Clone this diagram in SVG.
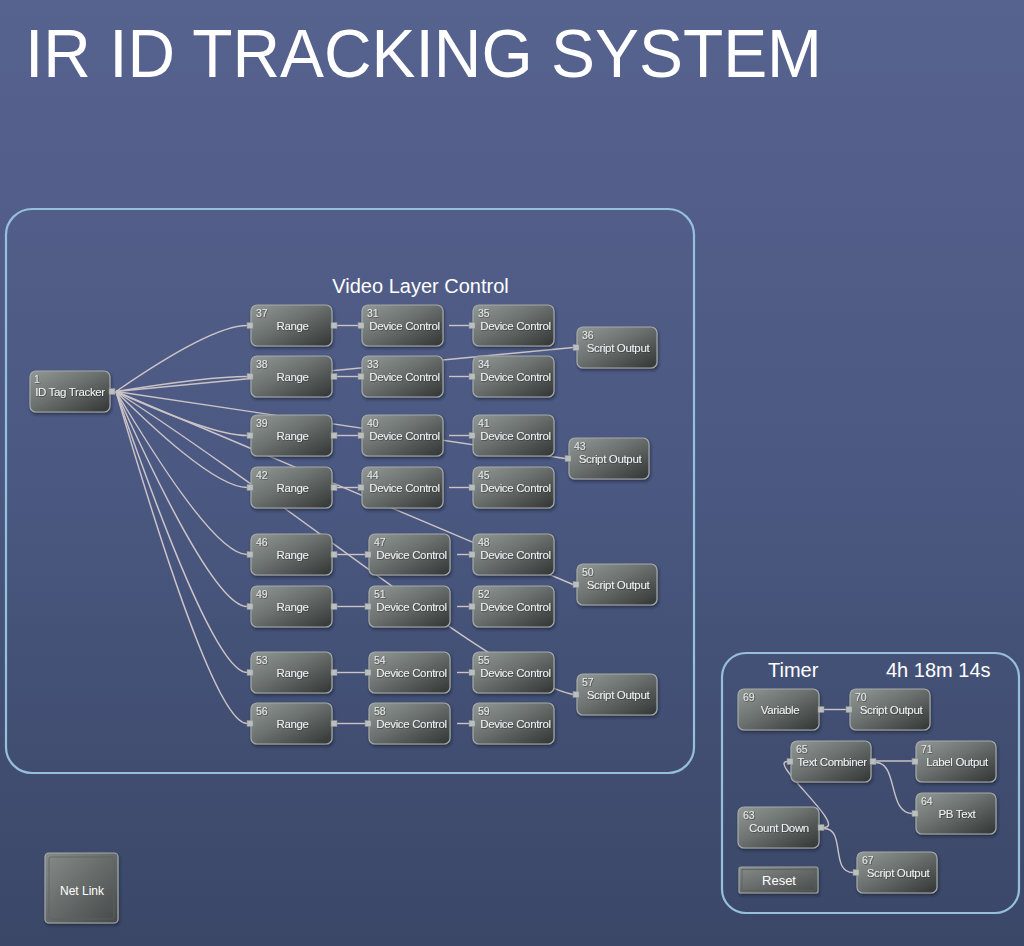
<svg xmlns="http://www.w3.org/2000/svg" width="1024" height="946" viewBox="0 0 1024 946">
<defs>
<linearGradient id="bg" x1="0" y1="0" x2="0" y2="1">
<stop offset="0" stop-color="#57638f"/>
<stop offset="0.5" stop-color="#4b5881"/>
<stop offset="1" stop-color="#3a4767"/>
</linearGradient>
<linearGradient id="ng" x1="0" y1="0" x2="1" y2="1">
<stop offset="0" stop-color="#929896"/>
<stop offset="0.45" stop-color="#6b716f"/>
<stop offset="1" stop-color="#323534"/>
</linearGradient>
<linearGradient id="bt" x1="0" y1="0" x2="1" y2="1">
<stop offset="0" stop-color="#868c8a"/>
<stop offset="1" stop-color="#454948"/>
</linearGradient>
<filter id="sh" x="-10%" y="-10%" width="130%" height="140%">
<feDropShadow dx="1" dy="2" stdDeviation="1.4" flood-color="#151b2a" flood-opacity="0.6"/>
</filter>
<filter id="ts" x="-5%" y="-20%" width="110%" height="150%">
<feDropShadow dx="0.6" dy="0.6" stdDeviation="0.3" flood-color="#1c1f1f" flood-opacity="0.7"/>
</filter>
</defs>
<style>
.nb{fill:url(#ng);stroke:#a3a9a8;stroke-width:1.2;filter:url(#sh)}
.p{fill:#babebe;stroke:#878c8c;stroke-width:0.5}
.n{font-family:"Liberation Sans",Arial,sans-serif;font-size:10.5px;fill:#e4e8e8;filter:url(#ts)}
.l{font-family:"Liberation Sans",Arial,sans-serif;font-size:11.5px;letter-spacing:-0.35px;fill:#eef2f2;text-anchor:middle;filter:url(#ts)}
.e{fill:none;stroke:#cbc3c6;stroke-width:1.4}
.box{fill:none;stroke:#96bfdc;stroke-width:2.2}
.h{font-family:"Liberation Sans",Arial,sans-serif;fill:#ffffff}
</style>
<rect x="0" y="0" width="1024" height="946" fill="url(#bg)"/>
<text class="h" x="25" y="77" font-size="68" textLength="797" lengthAdjust="spacingAndGlyphs">IR ID TRACKING SYSTEM</text>
<g id="video-box">
<rect class="box" x="6" y="209" width="688" height="564" rx="26"/>
<text class="h" x="420.5" y="293" font-size="20" text-anchor="middle">Video Layer Control</text>
</g>
<g id="timer-box">
<rect class="box" x="722" y="653" width="297" height="260" rx="24"/>
<text class="h" x="768" y="677" font-size="20">Timer</text>
<text class="h" x="886" y="677" font-size="20">4h 18m 14s</text>
</g>
<g id="connectors">
<path class="e" d="M116,391.5 C150,368 215,325.5 247,325.5"/>
<path class="e" d="M116,391.5 C150,386 215,376.5 247,376.5"/>
<path class="e" d="M116,391.5 C150,407 215,435.5 247,435.5"/>
<path class="e" d="M116,391.5 C150,425 215,487.5 247,487.5"/>
<path class="e" d="M116,391.5 C150,448 215,554.5 247,554.5"/>
<path class="e" d="M116,391.5 C150,467 215,606.5 247,606.5"/>
<path class="e" d="M116,391.5 C150,490 215,672.5 247,672.5"/>
<path class="e" d="M116,391.5 C150,508 215,723.5 247,723.5"/>
<path class="e" d="M116,391.5 L573,347.5"/>
<path class="e" d="M116,391.5 L565,458.5"/>
<path class="e" d="M116,391.5 L573,584.5"/>
<path class="e" d="M116,391.5 C300,510 500,680 573,694.5"/>
<path class="e" d="M337,325.5 L358,325.5"/>
<path class="e" d="M337,376.5 L358,376.5"/>
<path class="e" d="M337,435.5 L358,435.5"/>
<path class="e" d="M337,487.5 L358,487.5"/>
<path class="e" d="M337,554.5 L365,554.5"/>
<path class="e" d="M337,606.5 L365,606.5"/>
<path class="e" d="M337,672.5 L365,672.5"/>
<path class="e" d="M337,723.5 L365,723.5"/>
<path class="e" d="M449,325.5 L469,325.5"/>
<path class="e" d="M449,376.5 L469,376.5"/>
<path class="e" d="M449,435.5 L469,435.5"/>
<path class="e" d="M449,487.5 L469,487.5"/>
<path class="e" d="M457,554.5 L469,554.5"/>
<path class="e" d="M457,606.5 L469,606.5"/>
<path class="e" d="M457,672.5 L469,672.5"/>
<path class="e" d="M457,723.5 L469,723.5"/>
<path class="e" d="M824,709.5 L846,709.5"/>
<path class="e" d="M876,761 L912,761"/>
<path class="e" d="M876,762.5 C898,762.5 888,813.5 912,813.5"/>
<path class="e" d="M824,827.5 C848,827.5 768,761.5 787,761.5"/>
<path class="e" d="M824,828.5 C846,828.5 830,872.5 853,872.5"/>
</g>
<g id="n1"><rect class="nb" x="30" y="371" width="80" height="41" rx="6"/><rect class="p" x="109" y="388.5" width="6" height="6"/><text class="n" x="34" y="383">1</text><text class="l" x="70" y="396">ID Tag Tracker</text></g>
<g id="n37"><rect class="nb" x="251" y="305" width="81" height="41" rx="6"/><rect class="p" x="247" y="322.5" width="6" height="6"/><rect class="p" x="331" y="322.5" width="6" height="6"/><text class="n" x="256" y="317">37</text><text class="l" x="292.5" y="330">Range</text></g>
<g id="n31"><rect class="nb" x="362" y="305" width="81" height="41" rx="6"/><rect class="p" x="358" y="322.5" width="6" height="6"/><text class="n" x="367" y="317">31</text><text class="l" x="404.5" y="330">Device Control</text></g>
<g id="n35"><rect class="nb" x="473" y="305" width="81" height="41" rx="6"/><rect class="p" x="469" y="322.5" width="6" height="6"/><text class="n" x="478" y="317">35</text><text class="l" x="515.5" y="330">Device Control</text></g>
<g id="n36"><rect class="nb" x="577" y="327" width="80" height="41" rx="6"/><rect class="p" x="573" y="344.5" width="6" height="6"/><text class="n" x="582" y="339">36</text><text class="l" x="618" y="352">Script Output</text></g>
<g id="n38"><rect class="nb" x="251" y="356" width="81" height="41" rx="6"/><rect class="p" x="247" y="373.5" width="6" height="6"/><rect class="p" x="331" y="373.5" width="6" height="6"/><text class="n" x="256" y="368">38</text><text class="l" x="292.5" y="381">Range</text></g>
<g id="n33"><rect class="nb" x="362" y="356" width="81" height="41" rx="6"/><rect class="p" x="358" y="373.5" width="6" height="6"/><text class="n" x="367" y="368">33</text><text class="l" x="404.5" y="381">Device Control</text></g>
<g id="n34"><rect class="nb" x="473" y="356" width="81" height="41" rx="6"/><rect class="p" x="469" y="373.5" width="6" height="6"/><text class="n" x="478" y="368">34</text><text class="l" x="515.5" y="381">Device Control</text></g>
<g id="n39"><rect class="nb" x="251" y="415" width="81" height="41" rx="6"/><rect class="p" x="247" y="432.5" width="6" height="6"/><rect class="p" x="331" y="432.5" width="6" height="6"/><text class="n" x="256" y="427">39</text><text class="l" x="292.5" y="440">Range</text></g>
<g id="n40"><rect class="nb" x="362" y="415" width="81" height="41" rx="6"/><rect class="p" x="358" y="432.5" width="6" height="6"/><text class="n" x="367" y="427">40</text><text class="l" x="404.5" y="440">Device Control</text></g>
<g id="n41"><rect class="nb" x="473" y="415" width="81" height="41" rx="6"/><rect class="p" x="469" y="432.5" width="6" height="6"/><text class="n" x="478" y="427">41</text><text class="l" x="515.5" y="440">Device Control</text></g>
<g id="n43"><rect class="nb" x="569" y="438" width="80" height="41" rx="6"/><rect class="p" x="565" y="455.5" width="6" height="6"/><text class="n" x="574" y="450">43</text><text class="l" x="610" y="463">Script Output</text></g>
<g id="n42"><rect class="nb" x="251" y="467" width="81" height="41" rx="6"/><rect class="p" x="247" y="484.5" width="6" height="6"/><rect class="p" x="331" y="484.5" width="6" height="6"/><text class="n" x="256" y="479">42</text><text class="l" x="292.5" y="492">Range</text></g>
<g id="n44"><rect class="nb" x="362" y="467" width="81" height="41" rx="6"/><rect class="p" x="358" y="484.5" width="6" height="6"/><text class="n" x="367" y="479">44</text><text class="l" x="404.5" y="492">Device Control</text></g>
<g id="n45"><rect class="nb" x="473" y="467" width="81" height="41" rx="6"/><rect class="p" x="469" y="484.5" width="6" height="6"/><text class="n" x="478" y="479">45</text><text class="l" x="515.5" y="492">Device Control</text></g>
<g id="n46"><rect class="nb" x="251" y="534" width="81" height="41" rx="6"/><rect class="p" x="247" y="551.5" width="6" height="6"/><rect class="p" x="331" y="551.5" width="6" height="6"/><text class="n" x="256" y="546">46</text><text class="l" x="292.5" y="559">Range</text></g>
<g id="n47"><rect class="nb" x="369" y="534" width="81" height="41" rx="6"/><rect class="p" x="365" y="551.5" width="6" height="6"/><text class="n" x="374" y="546">47</text><text class="l" x="411.5" y="559">Device Control</text></g>
<g id="n48"><rect class="nb" x="473" y="534" width="81" height="41" rx="6"/><rect class="p" x="469" y="551.5" width="6" height="6"/><text class="n" x="478" y="546">48</text><text class="l" x="515.5" y="559">Device Control</text></g>
<g id="n50"><rect class="nb" x="577" y="564" width="80" height="41" rx="6"/><rect class="p" x="573" y="581.5" width="6" height="6"/><text class="n" x="582" y="576">50</text><text class="l" x="618" y="589">Script Output</text></g>
<g id="n49"><rect class="nb" x="251" y="586" width="81" height="41" rx="6"/><rect class="p" x="247" y="603.5" width="6" height="6"/><rect class="p" x="331" y="603.5" width="6" height="6"/><text class="n" x="256" y="598">49</text><text class="l" x="292.5" y="611">Range</text></g>
<g id="n51"><rect class="nb" x="369" y="586" width="81" height="41" rx="6"/><rect class="p" x="365" y="603.5" width="6" height="6"/><text class="n" x="374" y="598">51</text><text class="l" x="411.5" y="611">Device Control</text></g>
<g id="n52"><rect class="nb" x="473" y="586" width="81" height="41" rx="6"/><rect class="p" x="469" y="603.5" width="6" height="6"/><text class="n" x="478" y="598">52</text><text class="l" x="515.5" y="611">Device Control</text></g>
<g id="n53"><rect class="nb" x="251" y="652" width="81" height="41" rx="6"/><rect class="p" x="247" y="669.5" width="6" height="6"/><rect class="p" x="331" y="669.5" width="6" height="6"/><text class="n" x="256" y="664">53</text><text class="l" x="292.5" y="677">Range</text></g>
<g id="n54"><rect class="nb" x="369" y="652" width="81" height="41" rx="6"/><rect class="p" x="365" y="669.5" width="6" height="6"/><text class="n" x="374" y="664">54</text><text class="l" x="411.5" y="677">Device Control</text></g>
<g id="n55"><rect class="nb" x="473" y="652" width="81" height="41" rx="6"/><rect class="p" x="469" y="669.5" width="6" height="6"/><text class="n" x="478" y="664">55</text><text class="l" x="515.5" y="677">Device Control</text></g>
<g id="n57"><rect class="nb" x="577" y="674" width="80" height="41" rx="6"/><rect class="p" x="573" y="691.5" width="6" height="6"/><text class="n" x="582" y="686">57</text><text class="l" x="618" y="699">Script Output</text></g>
<g id="n56"><rect class="nb" x="251" y="703" width="81" height="41" rx="6"/><rect class="p" x="247" y="720.5" width="6" height="6"/><rect class="p" x="331" y="720.5" width="6" height="6"/><text class="n" x="256" y="715">56</text><text class="l" x="292.5" y="728">Range</text></g>
<g id="n58"><rect class="nb" x="369" y="703" width="81" height="41" rx="6"/><rect class="p" x="365" y="720.5" width="6" height="6"/><text class="n" x="374" y="715">58</text><text class="l" x="411.5" y="728">Device Control</text></g>
<g id="n59"><rect class="nb" x="473" y="703" width="81" height="41" rx="6"/><rect class="p" x="469" y="720.5" width="6" height="6"/><text class="n" x="478" y="715">59</text><text class="l" x="515.5" y="728">Device Control</text></g>
<g id="n69"><rect class="nb" x="738" y="689" width="81" height="41" rx="6"/><rect class="p" x="818" y="706.5" width="6" height="6"/><text class="n" x="743" y="701">69</text><text class="l" x="780" y="714">Variable</text></g>
<g id="n70"><rect class="nb" x="850" y="689" width="80" height="41" rx="6"/><rect class="p" x="846" y="706.5" width="6" height="6"/><text class="n" x="855" y="701">70</text><text class="l" x="891" y="714">Script Output</text></g>
<g id="n65"><rect class="nb" x="791" y="741" width="80" height="41" rx="6"/><rect class="p" x="787" y="758.5" width="6" height="6"/><rect class="p" x="870" y="758.5" width="6" height="6"/><text class="n" x="796" y="753">65</text><text class="l" x="832" y="766">Text Combiner</text></g>
<g id="n71"><rect class="nb" x="916" y="741" width="80" height="41" rx="6"/><rect class="p" x="912" y="758.5" width="6" height="6"/><text class="n" x="921" y="753">71</text><text class="l" x="957" y="766">Label Output</text></g>
<g id="n64"><rect class="nb" x="916" y="793" width="80" height="41" rx="6"/><rect class="p" x="912" y="810.5" width="6" height="6"/><text class="n" x="921" y="805">64</text><text class="l" x="957" y="818">PB Text</text></g>
<g id="n63"><rect class="nb" x="738" y="807" width="81" height="41" rx="6"/><rect class="p" x="818" y="824.5" width="6" height="6"/><text class="n" x="743" y="819">63</text><text class="l" x="779" y="832">Count Down</text></g>
<g id="n67"><rect class="nb" x="857" y="852" width="80" height="41" rx="6"/><rect class="p" x="853" y="869.5" width="6" height="6"/><text class="n" x="862" y="864">67</text><text class="l" x="898" y="877">Script Output</text></g>
<g id="reset"><rect x="739" y="867" width="79" height="26" rx="2" fill="url(#bt)" stroke="#9da3a2" stroke-width="1.2" filter="url(#sh)"/><rect x="742" y="869.5" width="73" height="21" fill="none" stroke="#5a5f5e" stroke-width="0.8"/><text class="h" x="779" y="885" font-size="13" text-anchor="middle" fill="#eef2f2">Reset</text></g>
<g id="netlink"><rect x="45" y="853" width="73" height="70" rx="4" fill="url(#bt)" stroke="#a3a9a8" stroke-width="1.2" filter="url(#sh)"/><rect x="49" y="857" width="65" height="62" rx="2" fill="none" stroke="#5e6362" stroke-width="0.8"/><text class="h" x="82" y="895" font-size="12" text-anchor="middle" fill="#eef2f2">Net Link</text></g>
</svg>
